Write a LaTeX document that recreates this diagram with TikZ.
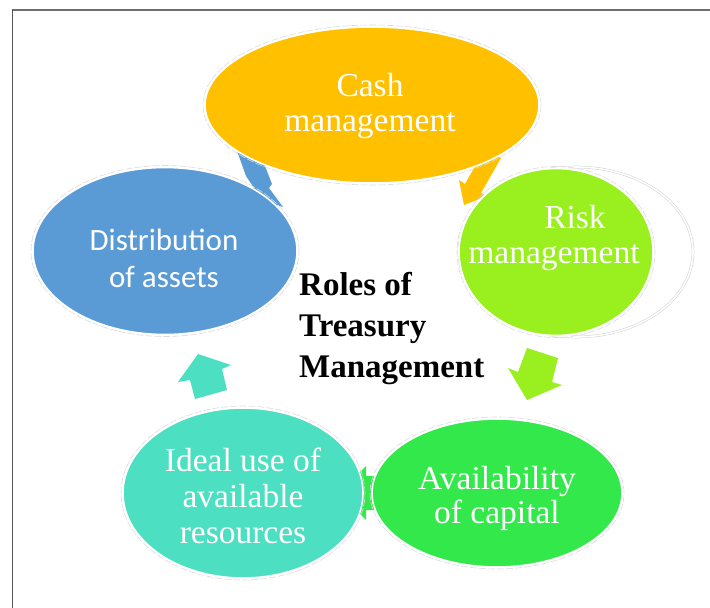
\documentclass[tikz,border=0pt]{standalone}
\usepackage{fontspec}
\setmainfont{Liberation Serif}
\newfontfamily\calibfont{Carlito}
\usetikzlibrary{shapes.geometric}
\definecolor{cashc}{HTML}{FFC000}
\definecolor{distc}{HTML}{5B9BD5}
\definecolor{riskc}{HTML}{9AF01E}
\definecolor{availc}{HTML}{33E84B}
\definecolor{idealc}{HTML}{4CDFC1}
\definecolor{framec}{HTML}{6E6E6E}
\tikzset{
  bubble/.style={ellipse, inner sep=0pt, draw=white, line width=1.6pt},
  halo/.style={draw=gray!28, line width=0.6pt, dash pattern=on 7pt off 2pt},
  label/.style={text=white, align=center, font=\fontsize{33.5}{35}\selectfont},
  title/.style={align=left, font=\fontsize{33}{41}\selectfont\bfseries, text=black, inner sep=0pt}
}
\begin{document}
\begin{tikzpicture}[x=1pt,y=-1pt]
\useasboundingbox (0,0) rectangle (710,608);
\fill[white] (0,0) rectangle (710,608);

% frame lines
\draw[framec, line width=2pt] (12,9.5) -- (710,9.5);
\draw[framec!80!black, line width=1pt] (12.5,9) -- (12.5,608);

% block arrows between the bubbles (partly hidden beneath them)
\fill[distc] (236,148) -- (258,148) -- (272,184) -- (269,188) -- (283,207)
  -- (262,200) -- (246,176) -- cycle;
\fill[cashc] (485,149) -- (501,158) -- (481,193) -- (487,196) -- (464,205)
  -- (459,180) -- (465,184) -- cycle;
\fill[riskc] (527,348) -- (558,358) -- (552,382) -- (562,385) -- (527,400)
  -- (508,368) -- (518,372) -- cycle;
\fill[availc] (340,493) -- (366,466) -- (366,476) -- (395,476) -- (395,510)
  -- (366,510) -- (366,520) -- cycle;
\fill[idealc] (198,354) -- (231,365) -- (222,369) -- (227,390) -- (195,399)
  -- (190,380) -- (178,382) -- cycle;

% outline ring behind the risk bubble
\draw[gray!35, double=white, double distance=1.6pt, line width=0.5pt]
  (576,252) ellipse [x radius=117pt, y radius=85pt];

% bubbles
\node[bubble, fill=cashc, minimum width=334pt, minimum height=156pt] (cash) at (372,105) {};
\node[bubble, fill=distc, minimum width=264pt, minimum height=167pt] (dist) at (165,251) {};
\node[bubble, fill=riskc, minimum width=194pt, minimum height=167pt] (risk) at (556,252) {};
\node[bubble, fill=availc, minimum width=250pt, minimum height=148pt] (avail) at (497,493) {};
\node[bubble, fill=idealc, minimum width=240pt, minimum height=170pt] (ideal) at (243,493) {};

% faint outer halos
\draw[halo] (cash) ellipse [x radius=169pt, y radius=80pt];
\draw[halo] (dist) ellipse [x radius=134pt, y radius=85.5pt];
\draw[halo] (risk) ellipse [x radius=99pt, y radius=85.5pt];
\draw[halo] (avail) ellipse [x radius=127pt, y radius=76pt];
\draw[halo] (ideal) ellipse [x radius=122pt, y radius=87pt];

% labels
\node[label] (cashtext) at (370,106) {Cash\\management};
\node[label, font=\calibfont\fontsize{31}{37}\selectfont] (disttext) at (164,258) {Distribution\\of assets};
\node[label] (risktext) at (554,238) {\hspace*{42pt}Risk\\management};
\node[label, font=\fontsize{33.5}{34}\selectfont] (availtext) at (497,498) {Availability\\of capital};
\node[label, font=\fontsize{33.5}{36}\selectfont] (idealtext) at (243,496) {Ideal use of\\available\\resources};

\node[title, anchor=north west] (roles) at (299,272) {Roles of\\Treasury\\Management};
\end{tikzpicture}
\end{document}
